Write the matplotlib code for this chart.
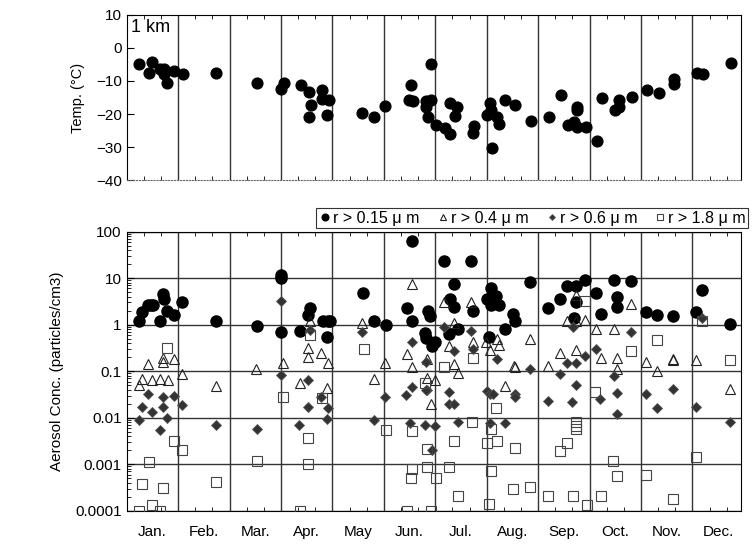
import numpy as np
import matplotlib
matplotlib.use('Agg')
import matplotlib.pyplot as plt
from matplotlib.ticker import LogLocator, NullFormatter, FixedLocator

plt.rcParams['font.family'] = ['Liberation Sans', 'DejaVu Sans']

months = ['Jan.', 'Feb.', 'Mar.', 'Apr.', 'May', 'Jun.', 'Jul.', 'Aug.', 'Sep.', 'Oct.', 'Nov.', 'Dec.']

# temperature at 1 km (x = fractional month)
temp_month = [0.23, 0.43, 0.49, 0.65, 0.73, 0.73, 0.79, 0.92, 1.09, 1.74, 2.53, 3.05, 3.01, 3.38, 3.54,
              3.58, 3.54, 3.80, 3.80, 3.93, 3.90, 4.57, 4.81, 5.03, 5.53, 5.48, 5.56, 5.82, 5.82, 5.92,
              5.92, 5.86, 6.02, 6.19, 6.28, 6.28, 6.43, 6.38, 6.73, 6.75, 7.01, 7.07, 7.09, 7.21, 7.24,
              7.11, 7.36, 7.55, 7.86, 8.21, 8.44, 8.59, 8.69, 8.75, 8.75, 8.76, 8.93, 9.14, 9.24, 9.50,
              9.57, 9.57, 9.82, 10.12, 10.35, 10.65, 10.65, 11.09, 11.21, 11.76]
temp_c = [-4.8, -7.5, -4.3, -6.3, -6.3, -8.0, -10.7, -7.0, -7.8, -7.6, -10.6, -10.5, -12.3, -11.3, -13.3,
          -17.2, -21.0, -12.8, -15.6, -15.8, -20.3, -19.8, -20.8, -17.6, -11.2, -15.7, -16.0, -16.0, -17.8, -15.8,
          -4.8, -20.8, -23.3, -24.3, -16.8, -26.0, -18.0, -20.5, -25.8, -23.5, -20.3, -16.8, -18.8, -20.8, -23.0,
          -30.3, -15.8, -17.3, -22.0, -21.0, -14.3, -23.3, -22.3, -17.8, -18.7, -23.8, -23.8, -28.3, -15.3, -18.7,
          -15.8, -17.8, -14.8, -12.6, -13.6, -9.5, -11.0, -7.7, -8.0, -4.6]

# r > 0.15 um
c015_month = [0.24, 0.30, 0.42, 0.47, 0.52, 0.71, 0.73, 0.65, 0.79, 0.92, 1.08, 1.74, 2.53,
              3.01, 3.01, 3.01, 3.37, 3.56, 3.53, 3.81, 3.91, 3.95, 3.89, 4.59, 4.81, 5.04,
              5.55, 5.46, 5.54, 5.85, 5.89, 5.80, 5.82, 5.99, 5.93, 6.27, 6.45,
              6.17, 6.69, 6.37, 6.29, 6.37, 6.74, 7.08, 7.19, 7.00, 7.09, 7.23, 7.52, 7.55, 7.36, 7.05, 7.84,
              8.20, 8.43, 8.56, 8.73, 8.73, 8.92, 8.69, 9.12, 9.22, 9.48, 9.54, 9.54, 9.80,
              10.10, 10.32, 10.63, 11.08, 11.18, 11.73]
c015_val = [1.2, 1.9, 2.6, 2.6, 2.6, 4.6, 3.6, 1.2, 2.0, 1.6, 3.0, 1.2, 0.95,
            11.5, 10.0, 0.69, 0.72, 2.3, 1.6, 1.2, 1.2, 1.2, 0.54, 4.8, 1.2, 1.0,
            64, 2.3, 1.2, 2.0, 1.5, 0.66, 0.52, 0.42, 0.35, 0.63, 0.8,
            23, 23, 7.4, 3.5, 2.4, 2.0, 6.2, 4.2, 3.5, 2.7, 2.7, 1.7, 1.2, 0.81, 0.55, 8.1,
            2.3, 3.5, 6.9, 6.9, 3.1, 9.1, 1.4, 4.8, 1.7, 9.1, 3.9, 2.4, 8.5,
            1.9, 1.6, 1.5, 1.9, 5.5, 1.05]

# r > 0.4 um
c04_month = [0.42, 0.71, 0.71, 0.92, 0.29, 0.23, 0.49, 0.65, 0.80, 1.08, 1.74, 2.52, 3.03, 3.37,
             3.53, 3.53, 3.77, 3.92, 3.89, 3.56, 4.57, 4.80, 5.02, 5.46, 5.55, 5.55,
             5.83, 5.83, 6.00, 5.92, 6.17, 6.69, 6.37, 6.27, 6.73, 6.37, 6.45,
             6.99, 7.07, 7.20, 7.24, 7.84, 7.53, 7.55, 7.36, 8.56, 8.73, 8.92, 8.42, 8.73, 8.20, 8.73,
             9.12, 9.48, 9.80, 9.22, 9.54, 9.54, 10.10, 10.32, 10.63, 10.63, 11.07, 11.73]
c04_val = [0.14, 0.19, 0.16, 0.18, 0.069, 0.051, 0.064, 0.069, 0.064, 0.085, 0.048, 0.11, 0.15, 0.056,
           0.32, 0.20, 0.24, 0.15, 0.044, 1.2, 1.1, 0.069, 0.15, 0.23, 0.12, 7.4,
           0.18, 0.072, 0.066, 0.02, 3.0, 3.1, 1.1, 0.35, 0.42, 0.14, 0.091,
           0.42, 0.29, 0.49, 0.36, 0.5, 0.13, 0.12, 0.049, 1.2, 1.2, 1.23, 0.25, 0.29, 0.13, 4.4,
           0.8, 0.8, 2.8, 0.19, 0.19, 0.11, 0.16, 0.10, 0.17, 0.18, 0.17, 0.042]

# r > 0.6 um
c06_month = [0.42, 0.29, 0.49, 0.71, 0.71, 0.91, 1.08, 0.23, 0.65, 0.79, 1.74, 2.53,
             3.01, 3.01, 3.53, 3.56, 3.77, 3.92, 3.53, 3.36, 3.89, 4.57, 5.02, 4.80,
             5.44, 5.55, 5.55, 5.51, 5.80, 5.83, 5.99, 6.27, 6.27, 6.37, 6.45, 5.93,
             6.17, 6.70, 6.73, 6.37, 5.82, 5.82, 7.00, 7.07, 7.13, 7.55, 7.55, 7.07, 7.36, 7.20, 7.84,
             8.20, 8.65, 8.73, 8.56, 8.73, 8.92, 8.42, 8.68, 9.20, 9.54, 9.54, 9.12, 9.80, 9.48,
             10.10, 10.32, 10.62, 11.07, 11.73, 11.18]
c06_val = [0.032, 0.017, 0.013, 0.028, 0.017, 0.029, 0.019, 0.0089, 0.0055, 0.010, 0.0069, 0.0058,
           0.081, 3.3, 0.066, 0.78, 0.028, 0.016, 0.017, 0.0069, 0.0095, 0.69, 0.028, 0.0089,
           0.031, 0.045, 0.42, 0.0078, 0.0069, 0.04, 0.0068, 0.035, 0.02, 0.02, 0.008, 0.002,
           0.9, 0.72, 0.30, 0.27, 0.16, 0.039, 0.037, 0.033, 0.033, 0.032, 0.028, 0.0078, 0.0078, 0.18, 0.11,
           0.023, 0.022, 0.051, 0.15, 0.15, 0.21, 0.087, 0.9, 0.025, 0.034, 0.012, 0.30, 0.7, 0.078,
           0.032, 0.016, 0.041, 0.017, 0.0081, 1.4]

# r > 1.8 um
c18_month = [0.79, 3.56, 4.62, 3.03, 3.79, 5.80, 0.92, 1.08, 0.43, 0.29, 0.71, 0.50, 0.24, 0.65,
             1.74, 2.53, 3.53, 3.53, 3.37, 5.04, 5.54, 5.55, 5.53, 5.83, 5.83, 5.46,
             6.01, 5.92, 6.27, 6.37, 6.71, 6.44, 7.08, 7.00, 7.21, 7.19, 7.08, 7.05, 7.55, 7.52, 7.84,
             8.20, 8.67, 8.96, 8.73, 8.73, 8.73, 8.56, 8.43, 8.92, 9.11, 9.46, 9.54, 9.22, 9.80,
             10.10, 10.62, 10.32, 11.08, 11.73, 11.18, 6.17, 6.74]
c18_val = [0.31, 0.61, 0.30, 0.028, 0.026, 0.056, 0.0031, 0.002, 0.0011, 0.00037, 0.00031, 0.00013, 0.0001, 0.0001,
           0.00042, 0.0012, 0.0036, 0.001, 0.0001, 0.0055, 0.0053, 0.0008, 0.0005, 0.00089, 0.0021, 0.0001,
           0.0005, 0.0001, 0.00089, 0.0032, 0.0081, 0.00021, 0.0058, 0.0029, 0.0031, 0.016, 0.0007, 0.00014,
           0.0022, 0.0003, 0.00032,
           0.00021, 0.00021, 0.00013, 0.0079, 0.0068, 0.0058, 0.0028, 0.0019, 3.3, 0.035, 0.0012, 0.00056,
           0.00021, 0.27, 0.0006, 0.00018, 0.46, 0.0014, 0.17, 1.2, 0.12, 0.19]

XMAX = 11.94
fig = plt.figure(figsize=(7.52, 5.54), dpi=100)
ax1 = fig.add_axes([0.1685, 0.675, 0.8165, 0.298])
ax2 = fig.add_axes([0.1685, 0.078, 0.8165, 0.504])

for ax in (ax1, ax2):
    ax.set_xlim(0, XMAX)
    ax.xaxis.set_major_locator(FixedLocator(np.arange(1, 12)))
    ax.xaxis.set_minor_locator(FixedLocator(np.arange(0, 12, 1 / 3)))
    ax.grid(True, axis='x', which='major', color='#333333', lw=1.0)
    ax.tick_params(axis='both', which='both', direction='in', labelsize=11, colors='black')
    ax.tick_params(axis='x', which='major', length=0, labelbottom=False)
    ax.tick_params(axis='x', which='minor', length=3, top=True)
    ax.set_axisbelow(True)
    for s in ax.spines.values():
        s.set_linewidth(0.8)

# top: temperature
ax1.scatter(temp_month, temp_c, s=60, color='black', zorder=3)
ax1.set_ylim(-40, 10)
ax1.set_yticks([10, 0, -10, -20, -30, -40])
ax1.set_yticklabels(['10', '0', '\u221210', '\u221220', '\u221230', '\u221240'])
ax1.tick_params(axis='y', length=5)
ax1.set_ylabel('Temp. (\u00b0C)', fontsize=10.5, labelpad=8)
ax1.text(0.08, 4.8, '1 km', fontsize=13)
ax1.spines['bottom'].set_linestyle(':')
ax1.spines['bottom'].set_color('#666666')

# bottom: aerosol concentration
ax2.set_yscale('log')
ax2.set_ylim(1e-4, 100)
ax2.set_yticks([1e-4, 1e-3, 1e-2, 1e-1, 1, 10, 100])
ax2.set_yticklabels(['0.0001', '0.001', '0.01', '0.1', '1', '10', '100'])
ax2.yaxis.set_minor_locator(LogLocator(base=10, subs=np.arange(2, 10)))
ax2.yaxis.set_minor_formatter(NullFormatter())
ax2.tick_params(axis='y', which='major', length=5)
ax2.tick_params(axis='y', which='minor', length=3)
ax2.grid(True, axis='y', which='major', color='#333333', lw=1.0)
ax2.set_ylabel('Aerosol Conc. (particles/cm3)', fontsize=11, labelpad=8)

ax2.plot(c015_month, c015_val, 'o', ms=8, color='black', label='r > 0.15 \u03bc m', zorder=3)
ax2.plot(c04_month, c04_val, '^', ms=7.5, mfc='none', mec='#222222', mew=0.8,
         label='r > 0.4 \u03bc m', zorder=4)
ax2.plot(c06_month, c06_val, 'D', ms=5, color='#333333', mec='#555555', mew=0.6,
         label='r > 0.6 \u03bc m', zorder=4)
ax2.plot(c18_month, c18_val, 's', ms=7.5, mfc='none', mec='#444444', mew=0.8,
         label='r > 1.8 \u03bc m', zorder=4)

for i, m in enumerate(months):
    ax2.text(i + 0.5, -0.075, m, transform=ax2.get_xaxis_transform(),
             ha='center', va='center', fontsize=11)

leg = ax2.legend(loc='lower right', bbox_to_anchor=(0.995, 0.588), bbox_transform=fig.transFigure,
                 ncol=4, frameon=True, fancybox=False, edgecolor='black', fontsize=11.5,
                 borderpad=0.15, handletextpad=0.05, columnspacing=1.0, handlelength=0.9,
                 markerscale=0.6, borderaxespad=0)
leg.get_frame().set_linewidth(0.8)

fig.savefig('out.png', dpi=100)
